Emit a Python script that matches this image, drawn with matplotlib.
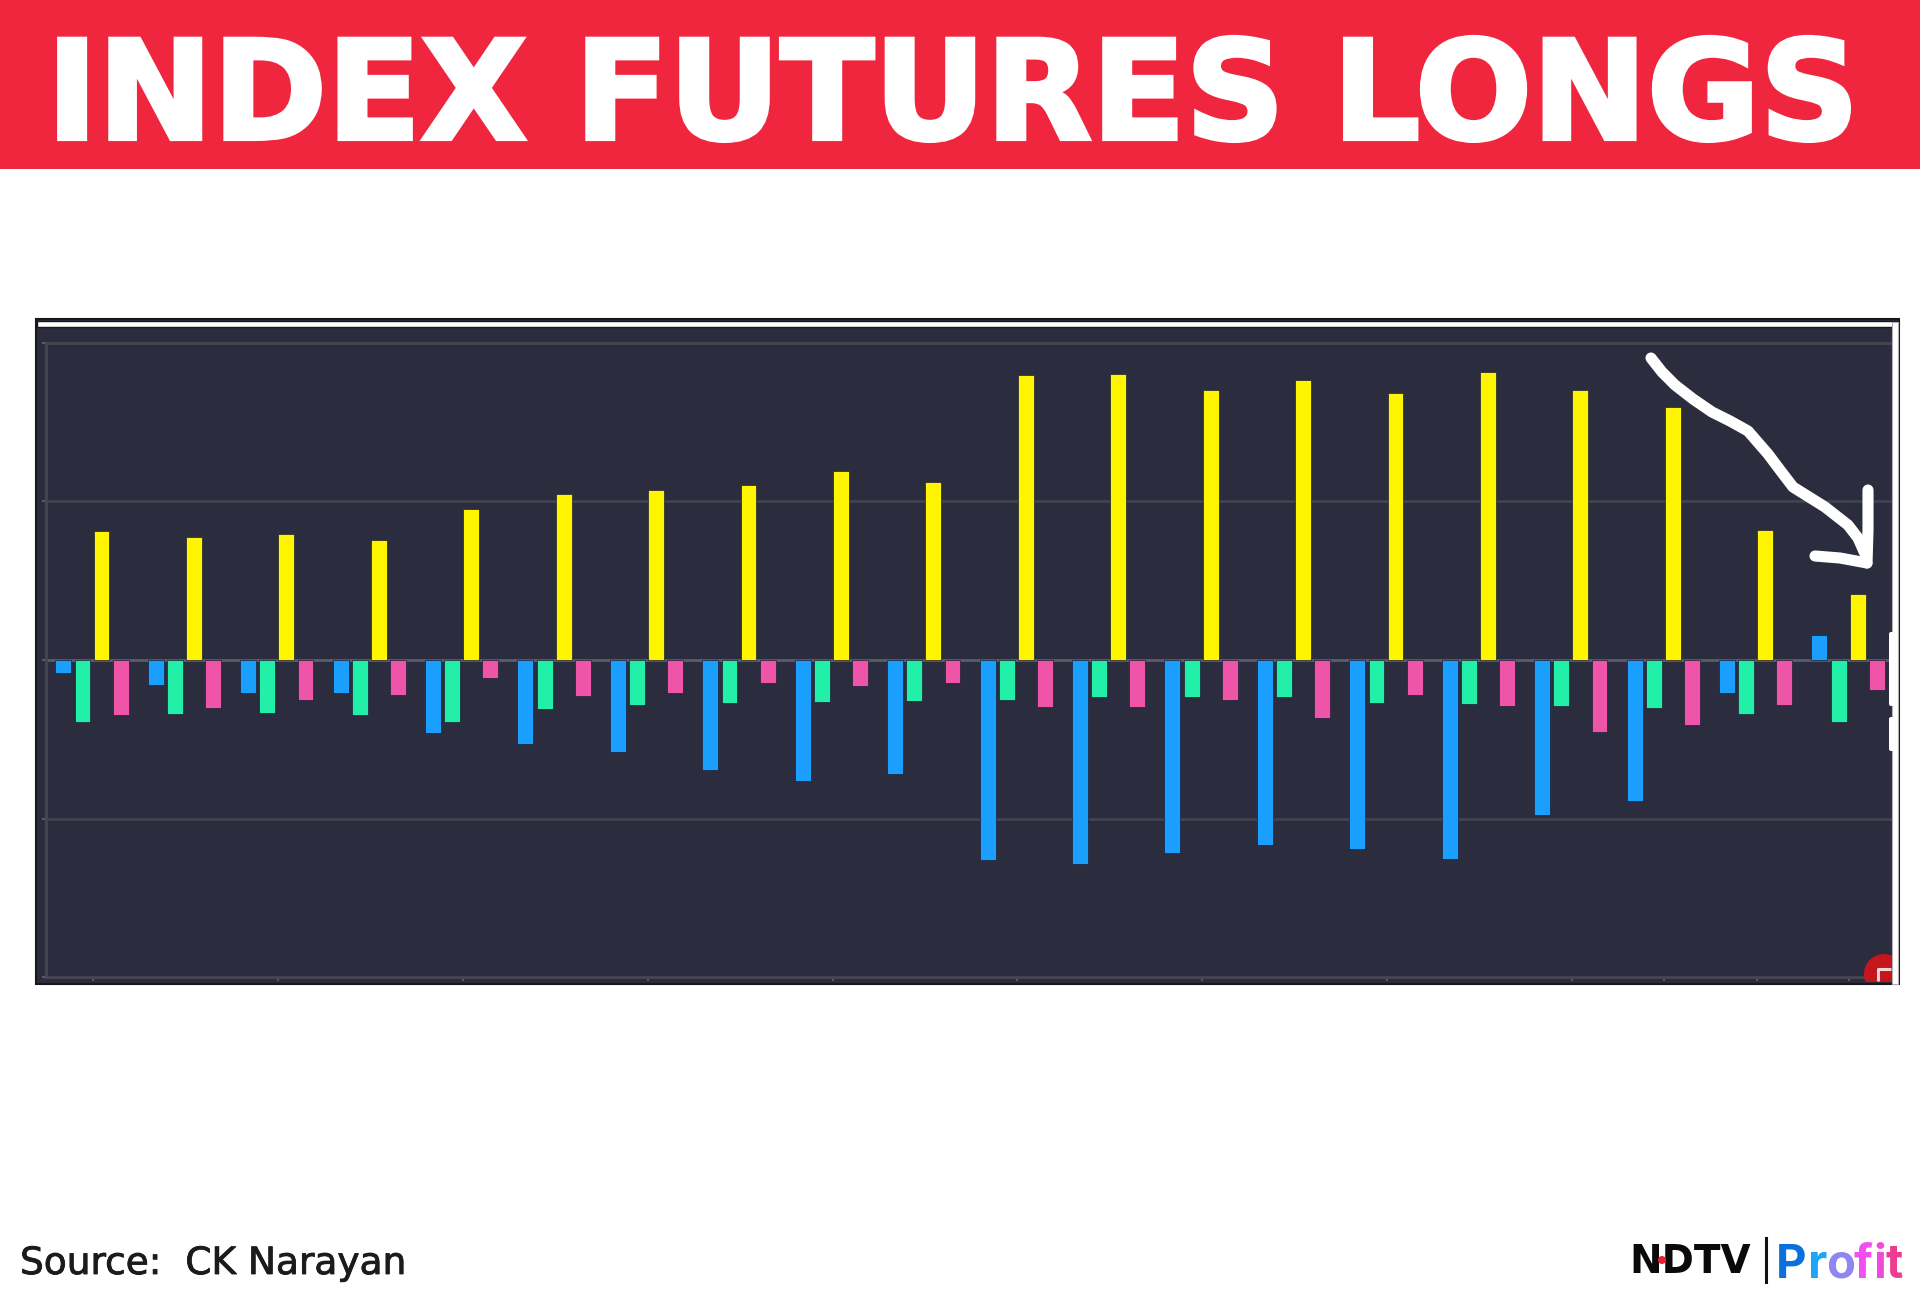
import numpy as np
import matplotlib
matplotlib.use('Agg')
import matplotlib.pyplot as plt
import matplotlib.patheffects as pe
from matplotlib.patches import Rectangle, Circle, FancyBboxPatch

# series values, 1 unit = one grid step of the chart
yellow = [0.806, 0.772, 0.787, 0.753, 0.949, 1.04, 1.066, 1.10, 1.185, 1.118,
          1.788, 1.795, 1.691, 1.756, 1.676, 1.803, 1.69, 1.587, 0.812, 0.413]
blue = [-0.084, -0.154, -0.21, -0.205, -0.458, -0.525, -0.575, -0.69, -0.761, -0.714,
        -1.254, -1.276, -1.211, -1.161, -1.183, -1.25, -0.969, -0.885, -0.205, 0.154]
green = [-0.388, -0.337, -0.331, -0.345, -0.39, -0.309, -0.281, -0.27, -0.264, -0.259,
         -0.251, -0.229, -0.229, -0.234, -0.272, -0.278, -0.287, -0.303, -0.337, -0.39]
pink = [-0.345, -0.298, -0.253, -0.219, -0.115, -0.225, -0.208, -0.143, -0.164, -0.147,
        -0.292, -0.296, -0.253, -0.363, -0.221, -0.289, -0.452, -0.41, -0.284, -0.191]
grid_values = [-1, 0, 1]
date_ticks = [-0.09, 1.91, 3.91, 5.91, 7.91, 9.91, 11.91, 13.91, 15.91, 16.91, 17.91, 18.91]

title = 'INDEX FUTURES LONGS'
source = 'Source:  CK Narayan'

W, H = 1920, 1304
fig = plt.figure(figsize=(W / 100, H / 100), dpi=100, facecolor='white')

# whole-figure layer in pixels for banner, frame and footer
bg = fig.add_axes([0, 0, 1, 1])
bg.set_xlim(0, W)
bg.set_ylim(H, 0)
bg.axis('off')

bg.add_patch(Rectangle((0, 0), W, 169, color='#f0263f', lw=0))
bg.text(953, 139, title, color='white', fontsize=99, fontweight='bold',
        family='DejaVu Sans', ha='center', va='baseline',
        path_effects=[pe.withStroke(linewidth=3, foreground='white', joinstyle='miter')])

# chart frame
bg.add_patch(Rectangle((36, 319), 1863, 665, fc='#2b2c3d', ec='#17171c', lw=1.5))

# chart
L, R, T, B = 46, 1892, 342.6, 977.4
ax = fig.add_axes([L / W, 1 - B / H, (R - L) / W, (B - T) / H])
ax.set_facecolor('#2b2c3d')
x = np.arange(len(yellow))
ax.set_xlim(-0.6, 19.372)
ax.set_ylim(-1.99, 1.99)

for v in grid_values:
    ax.axhline(v, color='#5c5d6b' if v == 0 else '#42434f', lw=2, zorder=1)

w = 0.172
edge = dict(edgecolor='#1e1f35', linewidth=0.5, zorder=3)
ax.bar(x - 0.413, blue, w, color='#1a9fff', **edge)
ax.bar(x - 0.205, green, w, color='#22f0a8', **edge)
ax.bar(x, yellow, w, color='#fff500', **edge)
ax.bar(x + 0.207, pink, w, color='#ee55a8', **edge)

ax.set_xticks(date_ticks)
ax.set_yticks([-1.99, -1, 0, 1, 1.99])
ax.tick_params(axis='both', length=3, width=1.5, color='#5a5b68',
               labelbottom=False, labelleft=False, direction='out')
ax.spines['right'].set_visible(False)
for s in ['left', 'top', 'bottom']:
    ax.spines[s].set_color('#45464f')
    ax.spines[s].set_linewidth(2)

# top-layer axes for what is drawn over the screenshot
top = fig.add_axes([0, 0, 1, 1], facecolor='none')
top.set_xlim(0, W)
top.set_ylim(H, 0)
top.axis('off')

# strips of the screenshot edge
top.add_patch(Rectangle((37, 320.5), 1860, 6, fc='white', ec='#17171c', lw=1))
top.add_patch(Rectangle((1892, 322), 5.5, 662, fc='white', ec='#b0b0b5', lw=0.8))
top.add_patch(FancyBboxPatch((1891, 634), 4, 70, boxstyle='round,pad=2', fc='white', ec='none'))
top.add_patch(FancyBboxPatch((1891, 719), 4, 30, boxstyle='round,pad=2', fc='white', ec='none'))

# red badge in the corner
badge = Circle((1884, 974), 20, fc='#c4161c', ec='none')
top.add_patch(badge)
badge.set_clip_path(Rectangle((1800, 900), 92, 82, transform=top.transData))
top.plot([1878, 1878, 1891], [981, 969, 969], color='#f6d6d6', lw=2.2, solid_capstyle='butt')

# hand drawn arrow
arrow_x = [1651, 1662, 1675, 1693, 1712, 1730, 1748, 1768, 1780, 1793, 1825, 1848, 1858, 1866]
arrow_y = [358, 372, 385, 399, 412, 421, 431, 454, 470, 487, 507, 525, 538, 556]
top.plot(arrow_x, arrow_y, color='white', lw=8, solid_capstyle='round', solid_joinstyle='round')
top.plot([1868, 1868, 1867], [490, 530, 563], color='white', lw=8, solid_capstyle='round')
top.plot([1815, 1840, 1867], [556, 558, 563], color='white', lw=8, solid_capstyle='round')

# footer
top.text(20, 1274, source, color='#1b1b1b', fontsize=27, family='DejaVu Sans',
         ha='left', va='baseline',
         path_effects=[pe.withStroke(linewidth=0.6, foreground='#1b1b1b')])

# logo
top.text(1629, 1273, 'NDTV', color='#0a0a0a', fontsize=28, family='DejaVu Sans', fontweight='bold',
         ha='left', va='baseline')
top.add_patch(Circle((1662, 1260), 4, fc='#ee2030', ec='none', zorder=5))
top.plot([1766, 1766], [1238, 1282], color='#111111', lw=2.2)
letters = ['P', 'r', 'o', 'f', 'i', 't']
letter_x = [1776, 1808, 1826, 1854, 1873, 1885]
letter_c = ['#0b70dc', '#1fa4f8', '#8f86f2', '#f24ff0', '#f04bd8', '#ee3c90']
for ch, lx, c in zip(letters, letter_x, letter_c):
    top.text(lx, 1278, ch, color=c, fontsize=34, family='Inter', fontweight='bold',
             ha='left', va='baseline')

fig.savefig('out.png', dpi=100)
